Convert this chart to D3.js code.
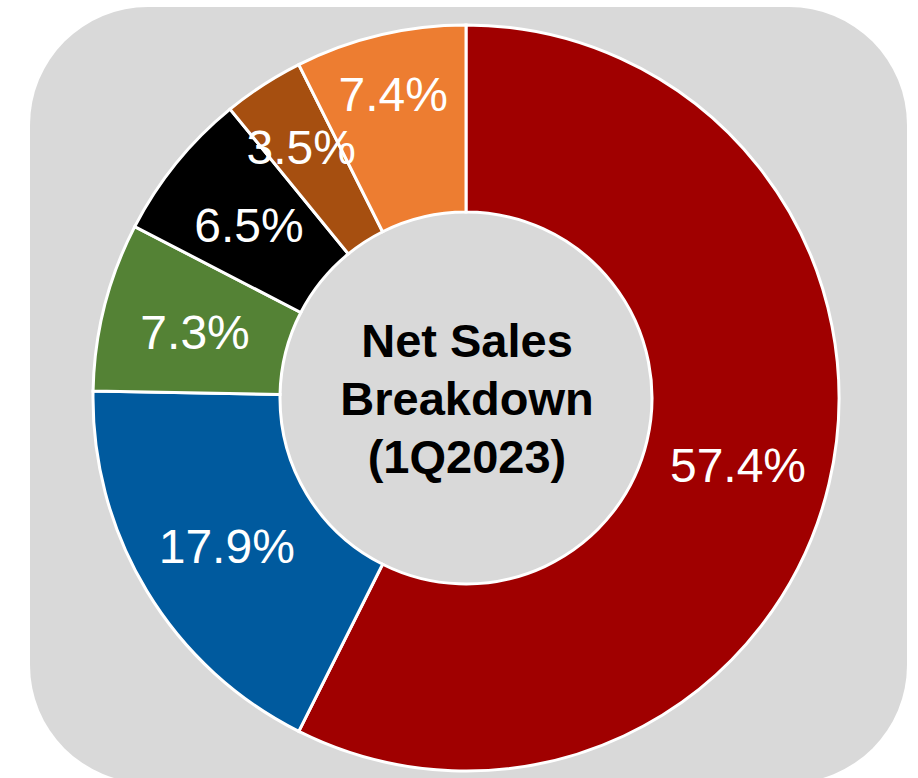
<!DOCTYPE html>
<html>
<head>
	<title>Net Sales Breakdown</title>
</head>
<body>

<svg class="chart"></svg>

<style type="text/css">
	body {
		margin: 0;
		background: #fff;
	}

	.chart {
		display: block;
		width: 918px;
		height: 778px;
	}

	.chart .slice {
		stroke: #fff;
		stroke-width: 3px;
	}

	.chart .label {
		fill: #fff;
		font-family: 'Liberation Sans', Arial, sans-serif;
		font-size: 48px;
		text-anchor: middle;
	}

	.chart .title {
		fill: #000;
		font-family: 'Liberation Sans', Arial, sans-serif;
		font-weight: bold;
		font-size: 47px;
		text-anchor: middle;
	}
</style>

<script src="https://d3js.org/d3.v7.min.js"></script>
<script type="text/javascript">
	// slices, clockwise from 12 o'clock
	var segments = ['Segment 1', 'Segment 2', 'Segment 3', 'Segment 4', 'Segment 5', 'Segment 6']
	var shares = [57.4, 17.9, 7.3, 6.5, 3.5, 7.4]
	var colors = ['#a00000', '#005a9e', '#548235', '#000000', '#a64f10', '#ed7d31']
	var titleLines = ['Net Sales', 'Breakdown', '(1Q2023)']

	;(function() {
		'use strict'

		var width = 918
		var height = 778

		var cx = 466
		var cy = 398
		var outer = 373
		var inner = 186

		var svg = d3.select('.chart')
			.attr('viewBox', [0, 0, width, height])

		svg.append('rect')
			.attr('x', 30)
			.attr('y', 7)
			.attr('width', 877)
			.attr('height', 776)
			.attr('rx', 118)
			.attr('ry', 118)
			.attr('fill', '#d9d9d9')

		var g = svg.append('g')
			.attr('transform', 'translate(' + [cx, cy] + ')')

		var pie = d3.pie()
			.sort(null)
			.value(function(d) { return d })

		var arcs = pie(shares)

		var arc = d3.arc()
			.innerRadius(inner)
			.outerRadius(outer)

		g.selectAll('.slice')
			.data(arcs)
			.enter()
			.append('path')
			.attr('class', 'slice')
			.attr('fill', function(d, i) { return colors[i] })
			.attr('d', arc)

		// the two thin slices have their labels pushed outwards
		var labelRadius = function(d) {
			if (d.value < 4) return 303
			if (d.index === 5) return 316
			return (inner + outer) / 2
		}

		g.selectAll('.label')
			.data(arcs)
			.enter()
			.append('text')
			.attr('class', 'label')
			.attr('transform', function(d) {
				var r = labelRadius(d)
				var p = d3.arc().innerRadius(r).outerRadius(r).centroid(d)
				return 'translate(' + [p[0], p[1] + 20] + ')'
			})
			.text(function(d) { return d3.format('.1f')(d.value) + '%' })

		g.selectAll('.title')
			.data(titleLines)
			.enter()
			.append('text')
			.attr('class', 'title')
			.attr('x', 1)
			.attr('y', function(d, i) { return -41 + i * 58 })
			.text(function(d) { return d })
	})()
</script>
</body>
</html>
